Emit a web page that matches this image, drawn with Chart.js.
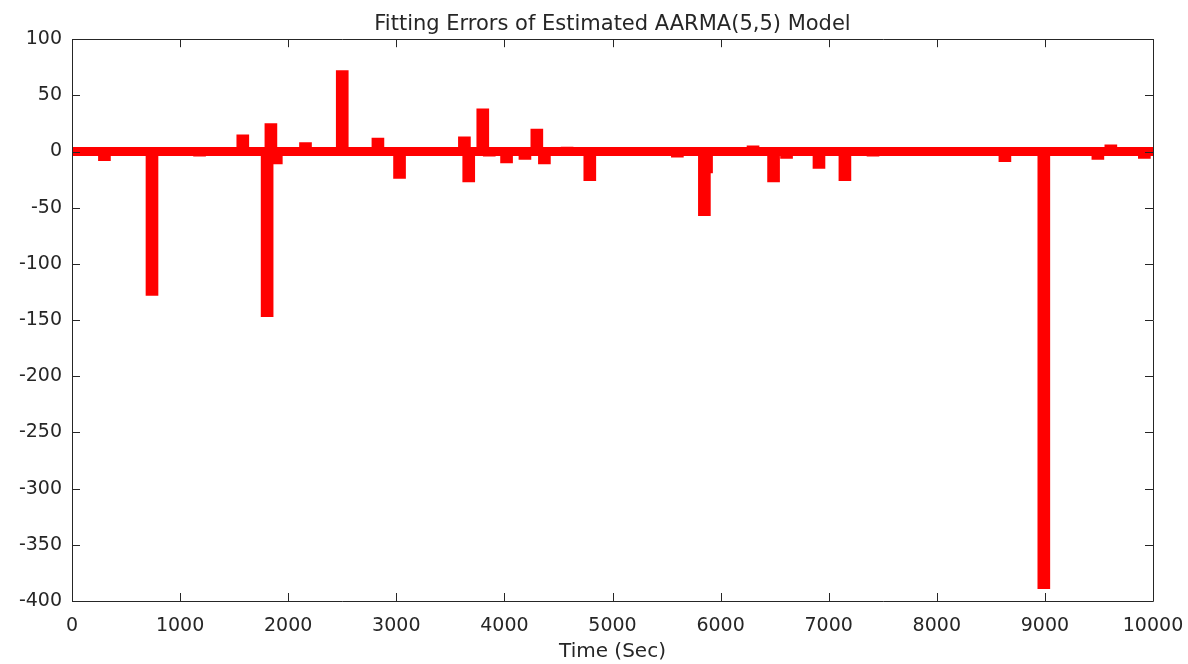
<!DOCTYPE html>
<html>
<head>
<meta charset="utf-8">
<script src="https://cdn.jsdelivr.net/npm/chart.js@4/dist/chart.umd.min.js"></script>
<style>
  html, body { margin: 0; padding: 0; background: #fff; }
  #wrap { width: 1188px; height: 664px; }
</style>
</head>
<body>
<div id="wrap"><canvas id="chart-errors"></canvas></div>
<script>
// fitting errors: time (sec) and error value
const errTimes = [170, 300, 500, 740, 860, 1180, 1580, 1805, 1840, 1890, 2160, 2500, 2600, 2830, 3030,
  3630, 3670, 3800, 3860, 4020, 4190, 4300, 4370, 4580, 4790, 5000, 5100, 5480, 5600, 5850, 5870,
  6000, 6300, 6490, 6610, 6910, 7150, 7200, 7410, 8630, 8990, 9300, 9490, 9610, 9920];
const errValues = [2, -8, 2, -128, 2, -4, 15, -147, 25, -11, 8, 72, 2, 12, -24,
  13, -27, 38, -4, -10, -7, 20, -11, 4, -26, 2, -3, 3, -5, -57, -19,
  2, 5, -27, -6, -15, -26, 2, -4, -9, -389, 3, -7, 6, -6];

// residual noise band along zero
const bandTimes = [0, 10000];
const bandValues = [0, 0];

const xTicks = [0, 1000, 2000, 3000, 4000, 5000, 6000, 7000, 8000, 9000, 10000];
const yTicks = [-400, -350, -300, -250, -200, -150, -100, -50, 0, 50, 100];

const RED = "#ff0000";
const AXIS = "#262626";
const FAMILY = "DejaVu Sans, sans-serif";
const tickFont = { family: FAMILY, size: 19 };

Chart.defaults.color = AXIS;

// matlab style box with inward ticks on all four sides
const boxTicks = {
  id: "boxTicks",
  afterDraw(chart) {
    const { ctx, chartArea: a, scales } = chart;
    const len = 8;
    ctx.save();
    ctx.strokeStyle = AXIS;
    ctx.lineWidth = 1;
    ctx.beginPath();
    ctx.rect(Math.round(a.left) + 0.5, Math.round(a.top) + 0.5,
      Math.round(a.right - a.left), Math.round(a.bottom - a.top));
    xTicks.forEach((v) => {
      const px = Math.round(scales.x.getPixelForValue(v)) + 0.5;
      ctx.moveTo(px, a.bottom); ctx.lineTo(px, a.bottom - len);
      ctx.moveTo(px, a.top); ctx.lineTo(px, a.top + len);
    });
    yTicks.forEach((v) => {
      const py = Math.round(scales.y.getPixelForValue(v)) + 0.5;
      ctx.moveTo(a.left, py); ctx.lineTo(a.left + len, py);
      ctx.moveTo(a.right, py); ctx.lineTo(a.right - len, py);
    });
    ctx.stroke();
    ctx.restore();
  },
};

new Chart(document.getElementById("chart-errors").getContext("2d"), {
  type: "bar",
  data: {
    datasets: [
      {
        type: "line",
        label: "band",
        data: bandTimes.map((t, i) => ({ x: t, y: bandValues[i] })),
        borderColor: RED,
        borderWidth: 9,
        pointRadius: 0,
        order: 2,
      },
      {
        label: "Fitting error",
        data: errTimes.map((t, i) => ({ x: t, y: errValues[i] })),
        backgroundColor: RED,
        borderWidth: 0,
        barThickness: 12,
        grouped: false,
        order: 1,
      },
    ],
  },
  options: {
    responsive: true,
    maintainAspectRatio: false,
    animation: false,
    layout: { padding: { top: 12, right: 35, bottom: 0, left: 0 } },
    plugins: {
      legend: { display: false },
      tooltip: { enabled: false },
      title: {
        display: true,
        fullSize: false,
        text: "Fitting Errors of Estimated AARMA(5,5) Model",
        color: AXIS,
        font: { family: FAMILY, size: 21, weight: "normal" },
        padding: { top: 0, bottom: 2 },
      },
    },
    scales: {
      x: {
        type: "linear",
        min: 0,
        max: 10000,
        offset: false,
        grid: { display: false, offset: false, drawTicks: false },
        border: { display: false },
        afterBuildTicks: (s) => { s.ticks = xTicks.map((v) => ({ value: v })); },
        afterFit: (s) => { s.height = 63; s.paddingLeft = 0; s.paddingRight = 0; },
        ticks: { font: tickFont, padding: 14, maxRotation: 0, color: AXIS, callback: (v) => String(v) },
        title: {
          display: true,
          text: "Time (Sec)",
          font: { family: FAMILY, size: 20 },
          color: AXIS,
          padding: { top: 0, bottom: 0 },
        },
      },
      y: {
        min: -400,
        max: 100,
        grid: { display: false, drawTicks: false },
        border: { display: false },
        afterBuildTicks: (s) => { s.ticks = yTicks.map((v) => ({ value: v })); },
        afterFit: (s) => { s.width = 72; },
        ticks: { font: tickFont, padding: 10, color: AXIS, callback: (v) => String(v) },
      },
    },
  },
  plugins: [boxTicks],
});
</script>
</body>
</html>
